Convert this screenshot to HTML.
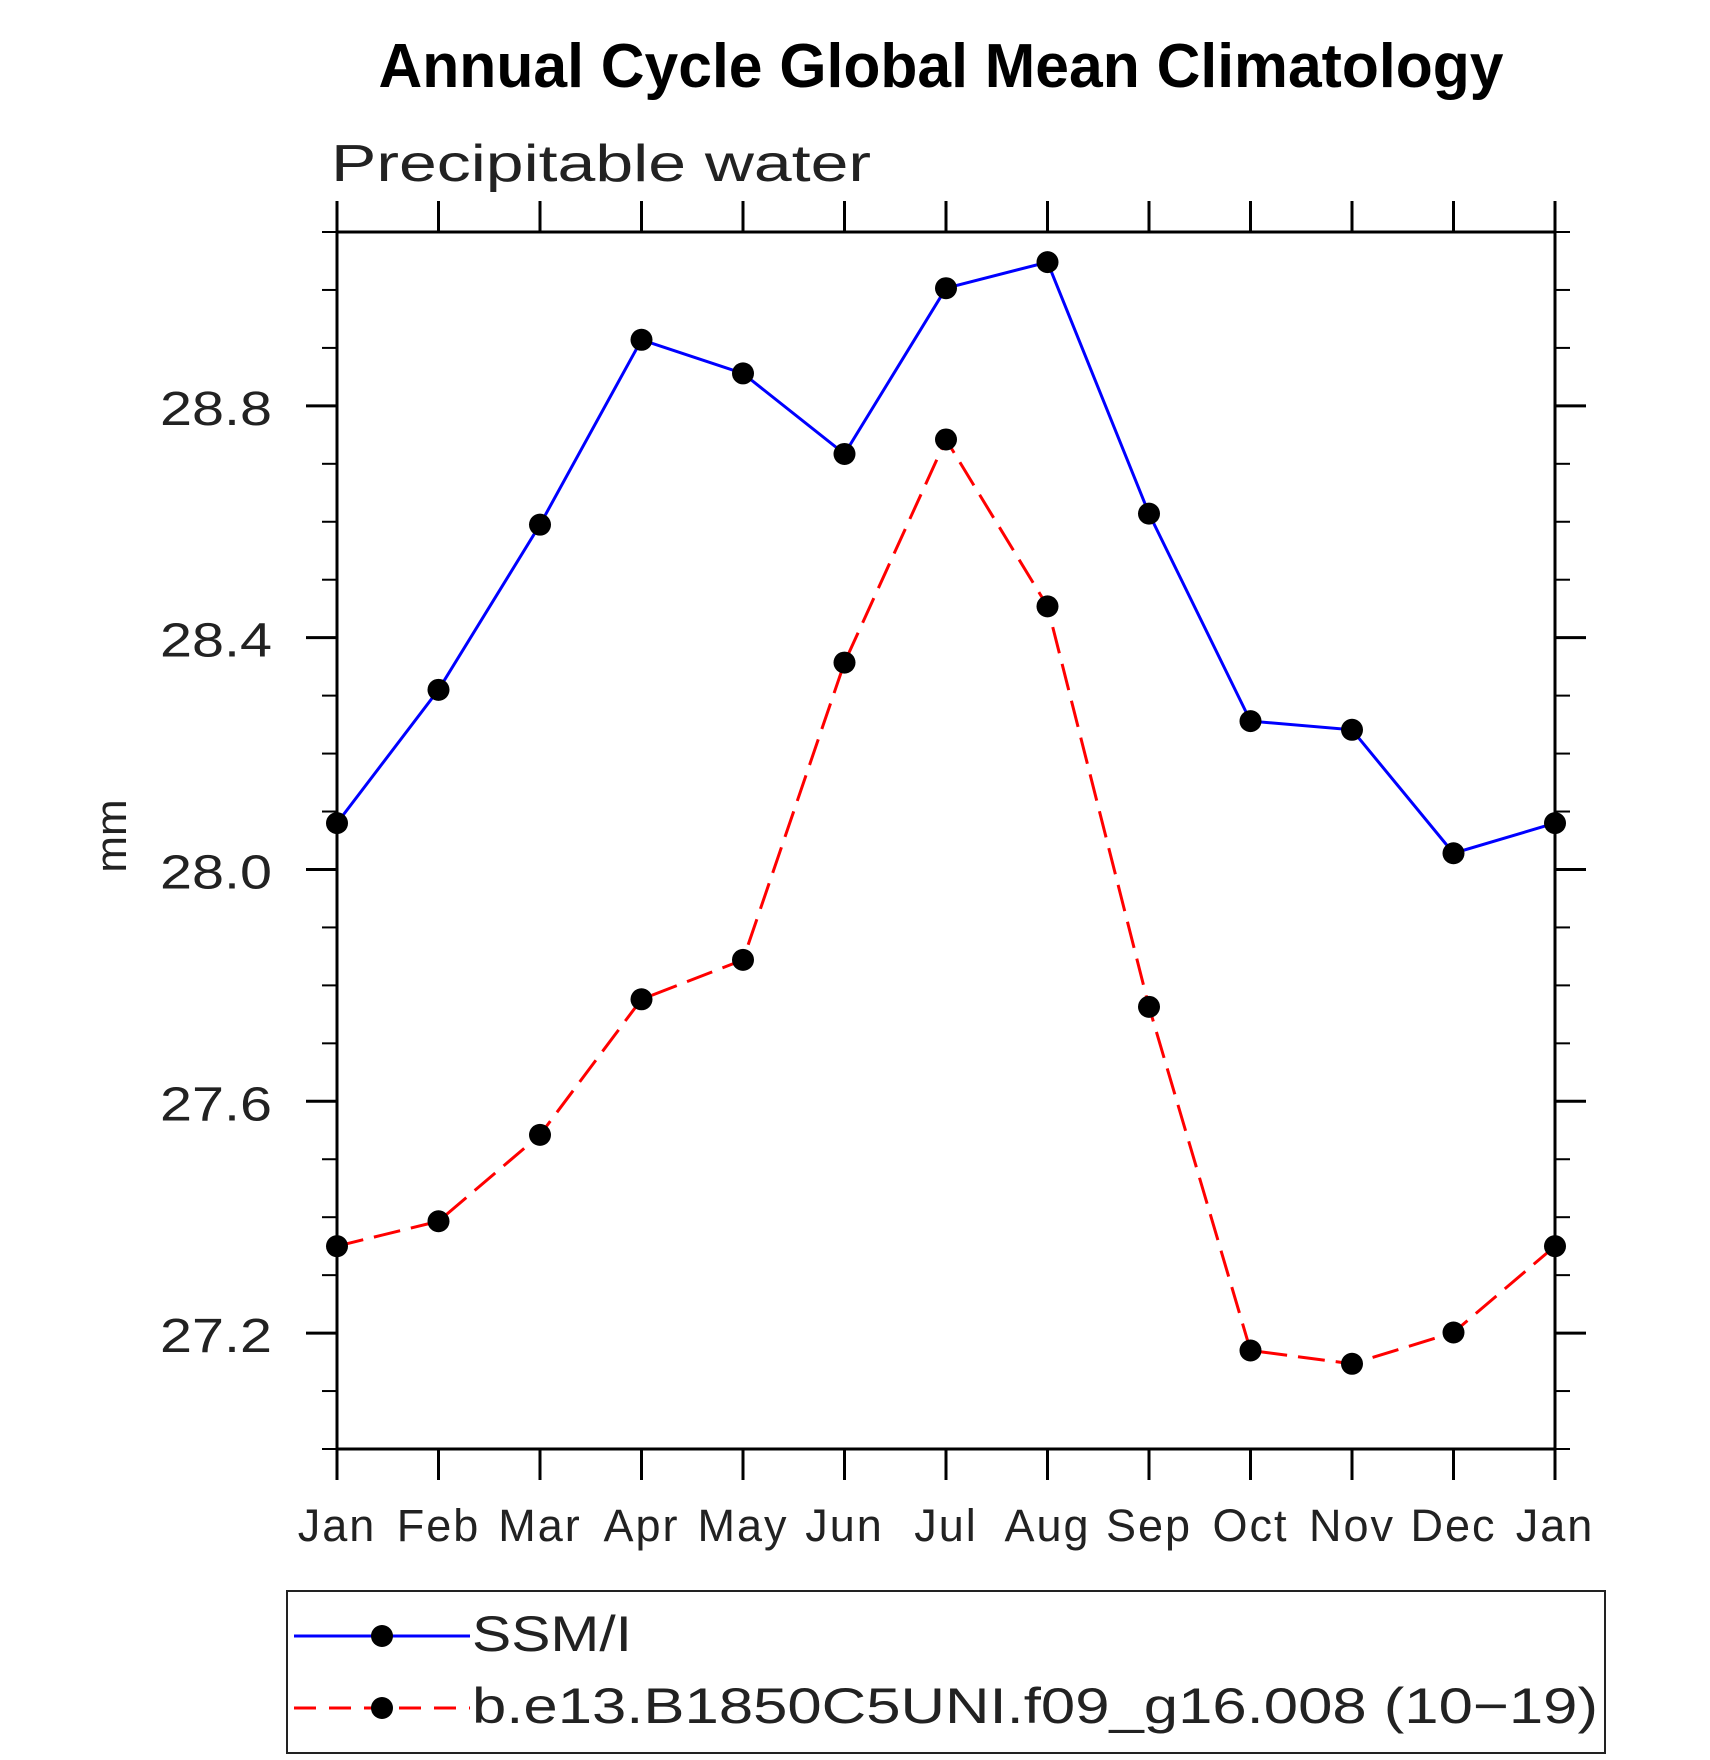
<!DOCTYPE html>
<html><head><meta charset="utf-8"><style>
html,body{margin:0;padding:0;background:#fff;}
svg{display:block;font-family:"Liberation Sans",sans-serif;}
</style></head><body>
<svg id="chart" width="1710" height="1760" viewBox="0 0 1710 1760" xmlns="http://www.w3.org/2000/svg">
<text x="941" y="87" text-anchor="middle" font-size="62" font-weight="bold" textLength="1125" lengthAdjust="spacingAndGlyphs">Annual Cycle Global Mean Climatology</text>
<text x="331" y="181" font-size="52" fill="#222" textLength="540" lengthAdjust="spacingAndGlyphs">Precipitable water</text>
<text transform="translate(126,836) rotate(-90)" text-anchor="middle" font-size="44" fill="#222">mm</text>
<g id="axes"></g>
<g id="series"></g>
<g>
<rect x="287" y="1591" width="1318" height="162" fill="none" stroke="#222" stroke-width="2"/>
<g>
<line x1="294" y1="1636" x2="470" y2="1636" stroke="#0000ff" stroke-width="3"/>
<circle cx="382" cy="1636" r="11" fill="#000"/>
<text x="472" y="1651" font-size="50" fill="#222" textLength="160" lengthAdjust="spacingAndGlyphs">SSM/I</text>
</g>
<g>
<line x1="294" y1="1708" x2="470" y2="1708" stroke="#ff0000" stroke-width="3" stroke-dasharray="22,13"/>
<circle cx="382" cy="1708" r="11" fill="#000"/>
<text x="472" y="1723" font-size="50" fill="#222" textLength="1126" lengthAdjust="spacingAndGlyphs">b.e13.B1850C5UNI.f09_g16.008 (10−19)</text>
</g>
</g>
</svg>
<script>
const months = ["Jan","Feb","Mar","Apr","May","Jun","Jul","Aug","Sep","Oct","Nov","Dec","Jan"];
const ssmiValues = [28.08,28.31,28.595,28.914,28.856,28.717,29.003,29.048,28.614,28.256,28.241,28.028,28.08];
const modelValues = [27.35,27.393,27.542,27.776,27.844,28.357,28.742,28.454,27.763,27.17,27.147,27.201,27.35];
const yTickLabels = ["27.2","27.6","28.0","28.4","28.8"];
const yMin = 27.0, yMax = 29.1;

const NS = "http://www.w3.org/2000/svg";
const L = 337, R = 1555, T = 232, B = 1449;
function xScale(i){ return L + (R - L) * i / (months.length - 1); }
function yScale(v){ return B - (v - yMin) / (yMax - yMin) * (B - T); }
function mk(tag, attrs, parent){ const e = document.createElementNS(NS, tag); for (const k in attrs) e.setAttribute(k, attrs[k]); parent.appendChild(e); return e; }

const axes = document.getElementById('axes');
const frame = mk('rect', {x:L, y:T, width:R-L, height:B-T, fill:'none', stroke:'#000', 'stroke-width':3}, axes);



months.forEach((m, i) => {
  const x = xScale(i);
  mk('line', {x1:x, y1:B, x2:x, y2:B+31, stroke:'#000', 'stroke-width':3}, axes);
  mk('line', {x1:x, y1:T, x2:x, y2:T-31, stroke:'#000', 'stroke-width':3}, axes);
  const t = mk('text', {x:x, y:1541, 'text-anchor':'middle', 'font-size':45, 'letter-spacing':2, fill:'#222'}, axes);
  t.textContent = m;
  
  
});

for (let k = 0; k <= 21; k++) {
  const v = yMin + k * 0.1;
  const y = yScale(v);
  const major = (k % 4 === 2);
  const len = major ? 31 : 15;
  mk('line', {x1:L-len, y1:y, x2:L, y2:y, stroke:'#000', 'stroke-width':major?3:2}, axes);
  mk('line', {x1:R, y1:y, x2:R+len, y2:y, stroke:'#000', 'stroke-width':major?3:2}, axes);
}
yTickLabels.forEach(lbl => {
  const y = yScale(parseFloat(lbl));
  const t = mk('text', {x:160, y:y+19, 'font-size':48, fill:'#222', textLength:112, lengthAdjust:'spacingAndGlyphs'}, axes);
  t.textContent = lbl;
  
  
});

const series = document.getElementById('series');
function drawSeries(vals, color, dash, name) {
  const g = mk('g', {}, series);
  
  
  const pts = vals.map((v, i) => xScale(i) + ',' + yScale(v)).join(' ');
  const attrs = {points:pts, fill:'none', stroke:color, 'stroke-width':3};
  if (dash) attrs['stroke-dasharray'] = dash;
  const pl = mk('polyline', attrs, g);
  
  
  vals.forEach((v, i) => {
    const c = mk('circle', {cx:xScale(i), cy:yScale(v), r:11, fill:'#000'}, g);
    
    
  });
}
drawSeries(ssmiValues, '#0000ff', null, 'ssmi-series');
drawSeries(modelValues, '#ff0000', '27,11', 'model-series');
</script>
</body></html>
